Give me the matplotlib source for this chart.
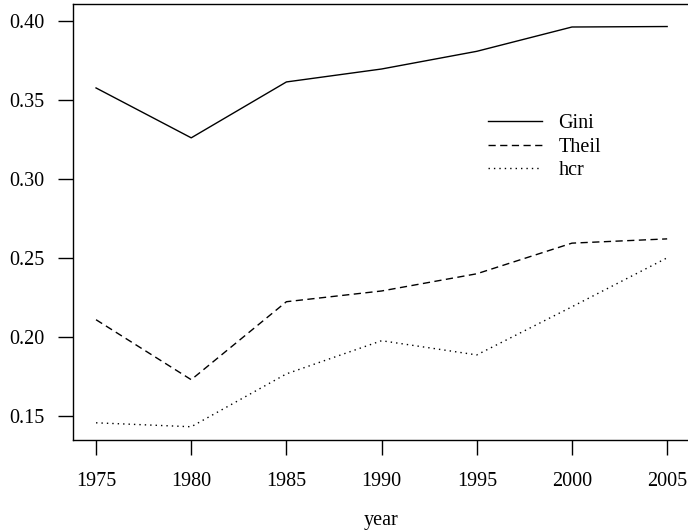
import matplotlib
matplotlib.use("Agg")
import matplotlib.pyplot as plt

years = [1975, 1980, 1985, 1990, 1995, 2000, 2005]
gini = [0.3576, 0.3260, 0.3614, 0.3696, 0.3808, 0.3962, 0.3965]
theil = [0.2108, 0.1728, 0.2222, 0.2290, 0.2399, 0.2593, 0.2620]
hcr = [0.1455, 0.1430, 0.1765, 0.1975, 0.1885, 0.2190, 0.2500]
series_names = ["Gini", "Theil", "hcr"]
yticks = [0.15, 0.20, 0.25, 0.30, 0.35, 0.40]
ytick_labels = ["0.15", "0.20", "0.25", "0.30", "0.35", "0.40"]

plt.rcParams['font.family'] = ['Liberation Serif', 'DejaVu Serif']
W, H = 688, 532
fig = plt.figure(figsize=(W / 100, H / 100), dpi=100)
ax = fig.add_axes([73 / W, 1 - 440 / H, (690 - 73) / W, (440 - 4) / H])

lw = 1.0
ax.plot(years, gini, color='black', lw=lw, linestyle='-', label=series_names[0])
ax.plot(years, theil, color='black', lw=lw, dashes=(5.2, 3.2), label=series_names[1])
ax.plot(years, hcr, color='black', lw=lw, dashes=(1.0, 2.9), label=series_names[2])

ax.set_xlim(1973.79, 2006.2)
ax.set_ylim(0.13461, 0.41077)
ax.set_xticks(years)
ax.set_xticklabels([str(y) for y in years])
ax.set_yticks(yticks)
ax.set_yticklabels(ytick_labels)
ax.tick_params(axis='both', direction='out', length=10.8, width=1.0, labelsize=14.5,
               color='black', labelcolor='black')
ax.tick_params(axis='x', pad=12)
ax.tick_params(axis='y', pad=10)
for s in ax.spines.values():
    s.set_linewidth(1.0)
ax.spines['right'].set_visible(False)
ax.set_xlabel("year", fontsize=14.5, labelpad=15)

leg = ax.legend(loc='upper left', bbox_to_anchor=((480 - 73) / (690 - 73), 1 - (106 - 4) / 436),
                frameon=False, fontsize=14.5, handlelength=2.7, handletextpad=0.8,
                labelspacing=0.22, borderaxespad=0)

fig.savefig("out.png", dpi=100)
